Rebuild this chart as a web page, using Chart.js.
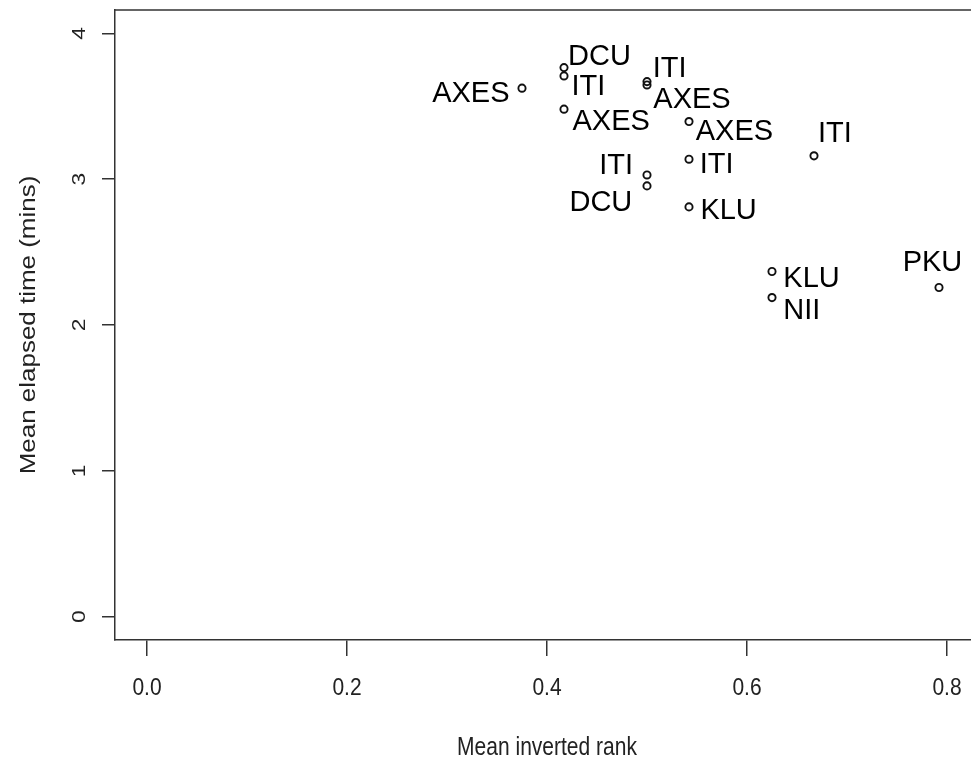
<!DOCTYPE html>
<html>
<head>
<meta charset="utf-8">
<script src="https://cdn.jsdelivr.net/npm/chart.js@4/dist/chart.umd.min.js"></script>
<style>
html,body{margin:0;padding:0;overflow:hidden;background:#fff;}
#wrap{width:1000px;height:759px;}
</style>
</head>
<body>
<div id="wrap"><canvas id="c" width="1000" height="759"></canvas></div>
<script>
// ---- data ----
const teamLabels = ['AXES','DCU','ITI','AXES','ITI','AXES','AXES','ITI','KLU','ITI','DCU','ITI','KLU','NII','PKU'];
const meanInvertedRank = [0.375,0.417,0.417,0.417,0.5,0.5,0.542,0.542,0.542,0.5,0.5,0.667,0.625,0.625,0.792];
const meanElapsedMins = [3.624,3.765,3.708,3.480,3.669,3.646,3.395,3.137,2.810,3.029,2.954,3.160,2.367,2.188,2.257];
const xTicks = [0, 0.2, 0.4, 0.6, 0.8];
const yTicks = [0, 1, 2, 3, 4];
const xTitle = 'Mean inverted rank';
const yTitle = 'Mean elapsed time (mins)';

// ---- label placement (style only): [align, dx, dy of cap-centre] ----
const labelPlacement = [
  ['right', -12.5, 3], ['left', 4, -12.5], ['left', 7.5, 8.7], ['left', 8.5, 10],
  ['left', 5.7, -14.5], ['left', 6.3, 12.5], ['left', 6.7, 8.5], ['left', 10.7, 3.4],
  ['left', 11.4, 1.5], ['right', -14, -11.5], ['right', -14.7, 14.5], ['left', 4, -24],
  ['left', 11.3, 5], ['left', 11.3, 11], ['center', -6.5, -27]
];

const FONT = '"Liberation Sans", Arial, Helvetica, sans-serif';
const points = meanInvertedRank.map((x, i) => ({x: x, y: meanElapsedMins[i]}));

const decor = {
  id: 'decor',
  afterDatasetsDraw(chart) {
    const ctx = chart.ctx;
    const meta = chart.getDatasetMeta(0);
    ctx.save();
    ctx.fillStyle = '#000';
    ctx.font = '29px ' + FONT;
    ctx.textBaseline = 'alphabetic';
    meta.data.forEach((el, i) => {
      const p = labelPlacement[i];
      ctx.textAlign = p[0];
      ctx.fillText(teamLabels[i], el.x + p[1], el.y + p[2] + 0.358 * 29);
    });
    ctx.restore();
  },
  afterDraw(chart) {
    const ctx = chart.ctx;
    const a = chart.chartArea;
    const xs = chart.scales.x, ys = chart.scales.y;
    ctx.save();
    // top / right box lines
    ctx.strokeStyle = '#333';
    ctx.lineWidth = 1.5;
    ctx.beginPath();
    ctx.moveTo(a.left, a.top);
    ctx.lineTo(a.right, a.top);
    ctx.lineTo(a.right, a.bottom);
    ctx.stroke();

    ctx.fillStyle = '#222';
    // x tick labels
    ctx.font = '21px ' + FONT;
    ctx.textAlign = 'center';
    ctx.textBaseline = 'alphabetic';
    xTicks.forEach(v => {
      const px = xs.getPixelForValue(v);
      ctx.save();
      ctx.translate(px, a.bottom + 46.7);
      ctx.scale(1, 1.12);
      ctx.fillText(v.toFixed(1), 0, 0.358 * 21);
      ctx.restore();
    });
    // y tick labels (rotated)
    ctx.font = '19px ' + FONT;
    yTicks.forEach(v => {
      const py = ys.getPixelForValue(v);
      ctx.save();
      ctx.translate(a.left - 36.5, py);
      ctx.rotate(-Math.PI / 2);
      ctx.scale(1.2, 1);
      ctx.fillText(String(v), 0, 0.358 * 19);
      ctx.restore();
    });
    // x title
    ctx.font = '21px ' + FONT;
    ctx.save();
    ctx.translate((a.left + a.right) / 2, a.bottom + 105.8);
    ctx.scale(1, 1.2);
    ctx.fillText(xTitle, 0, 0.358 * 21);
    ctx.restore();
    // y title
    ctx.font = '22px ' + FONT;
    ctx.save();
    ctx.translate(a.left - 88.3, (a.top + a.bottom) / 2);
    ctx.rotate(-Math.PI / 2);
    ctx.scale(1.18, 1);
    ctx.fillText(yTitle, 0, 0.358 * 22);
    ctx.restore();
    ctx.restore();
  }
};

new Chart(document.getElementById('c'), {
  type: 'scatter',
  data: {
    datasets: [{
      data: points,
      pointStyle: 'circle',
      pointRadius: 3.6,
      borderWidth: 1.9,
      borderColor: '#111',
      backgroundColor: 'rgba(255,255,255,0)'
    }]
  },
  options: {
    responsive: false,
    devicePixelRatio: 1,
    animation: false,
    events: [],
    layout: { padding: { left: 102, top: 10, right: 21, bottom: 103 } },
    plugins: { legend: { display: false }, tooltip: { enabled: false } },
    scales: {
      x: {
        type: 'linear',
        min: -0.032, max: 0.832,
        afterBuildTicks: s => { s.ticks = xTicks.map(v => ({value: v})); },
        ticks: { display: false },
        grid: { display: true, drawOnChartArea: false, drawTicks: true, tickLength: 16, color: '#333', lineWidth: 1.5 },
        border: { display: true, color: '#333', width: 1.5 }
      },
      y: {
        type: 'linear',
        min: -0.16, max: 4.16,
        afterBuildTicks: s => { s.ticks = yTicks.map(v => ({value: v})); },
        ticks: { display: false },
        grid: { display: true, drawOnChartArea: false, drawTicks: true, tickLength: 13, color: '#333', lineWidth: 1.5 },
        border: { display: true, color: '#333', width: 1.5 }
      }
    }
  },
  plugins: [decor]
});
</script>
</body>
</html>
